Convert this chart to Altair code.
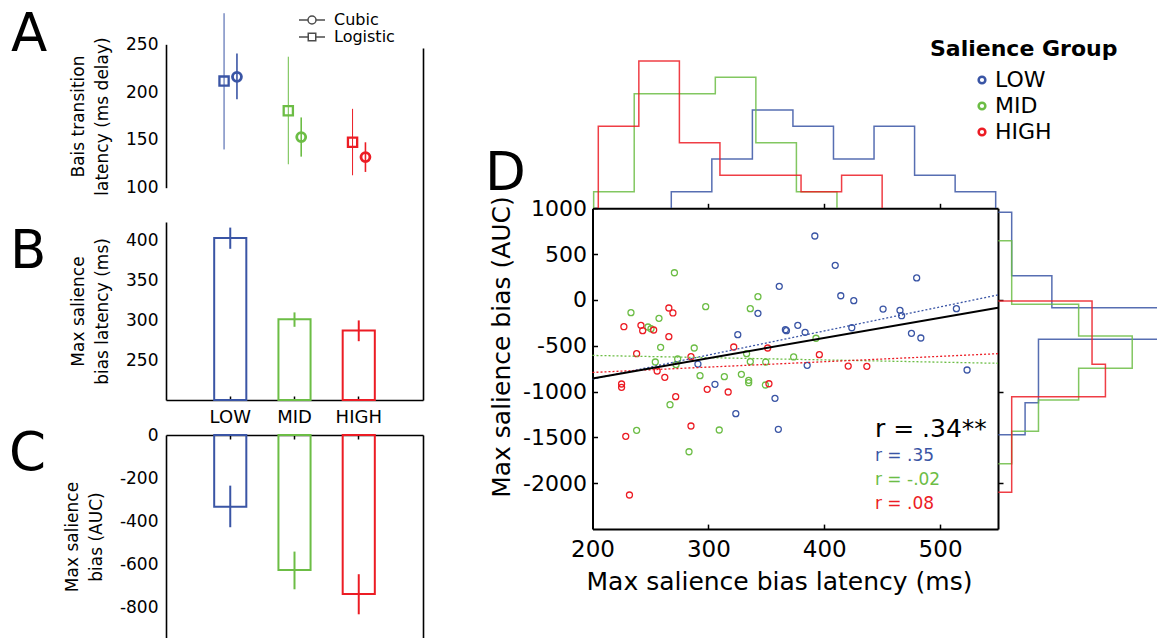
import altair as alt
import pandas as pd

FONT = "DejaVu Sans"

# ---------------- data ----------------
groups = ["LOW", "MID", "HIGH"]
colors = ["#3a55a5", "#6cbd45", "#ec1c24"]
models = ["Cubic", "Logistic"]

# Panel A: bias transition latency (ms delay)
a_logistic_mean = [211.5, 180.5, 147.5]
a_logistic_lo = [140.0, 124.5, 113.0]
a_logistic_hi = [282.5, 237.0, 182.5]
a_cubic_mean = [216.0, 153.0, 132.0]
a_cubic_lo = [192.5, 132.5, 116.5]
a_cubic_hi = [240.5, 173.5, 147.5]

# Panel B: max salience bias latency (ms)
b_mean = [402.5, 301.0, 287.0]
b_lo = [389.0, 291.5, 273.5]
b_hi = [415.5, 309.5, 299.5]

# Panel C: max salience bias (AUC)
c_mean = [-333.0, -626.0, -738.0]
c_lo = [-428.0, -716.0, -832.0]
c_hi = [-235.0, -541.0, -646.0]

# Panel D scatter
low_x = [391.9, 409.5, 479.8, 361.2, 414.3, 425.5, 342.8, 450.8, 465.4, 466.8, 514.1, 377.2, 367.4,
         366.5, 383.5, 325.4, 423.8, 475.3, 483.4, 291.0, 385.3, 523.3, 305.7, 357.5, 323.7, 360.4]
low_y = [698, 378, 240, 149, 46, -8, -146, -99, -113, -172, -95, -277, -335,
         -325, -353, -379, -303, -364, -415, -699, -713, -764, -920, -1073, -1241, -1411]
mid_x = [270.7, 342.8, 297.7, 336.2, 233.2, 257.4, 247.9, 250.5, 392.9, 258.8, 287.8, 333.0, 373.6, 273.5,
         254.2, 336.2, 349.5, 272.1, 292.8, 313.8, 328.5, 334.8, 334.8, 349.2, 266.9, 238.1, 309.4, 283.3]
mid_y = [297, 36, -73, -95, -139, -200, -295, -314, -418, -517, -524, -586, -622, -644,
         -677, -673, -677, -706, -826, -837, -811, -877, -903, -928, -1143, -1422, -1419, -1656]
high_x = [265.9, 269.4, 227.1, 241.8, 243.3, 252.8, 265.9, 238.1, 321.9, 351.2, 285.0, 395.8, 255.8,
          262.4, 420.7, 436.8, 225.1, 225.1, 299.0, 352.3, 317.1, 271.8, 285.0, 228.7, 231.9]
high_y = [-88, -142, -292, -277, -335, -328, -401, -586, -513, -524, -619, -597, -775,
          -844, -721, -724, -917, -953, -975, -914, -1004, -1055, -1375, -1488, -2128]

# regression lines (end points at the x limits)
fit_x = [200, 550]
fit_all = [-856, -84]
fit_low = [-863, 55]
fit_mid = [-605, -691]
fit_high = [-791, -586]

r_labels = ["r = .34**", "r = .35", "r = -.02", "r = .08"]

# marginal histograms (bin edges and counts)
top_edges_low = [268, 303, 338, 373, 408, 443, 478, 513, 548]
top_counts_low = [1, 3, 6, 5, 3, 5, 2, 1]
top_edges_mid = [201, 236, 271, 306, 341, 376, 411]
top_counts_mid = [1, 7, 7, 8, 4, 1]
top_edges_high = [205, 240, 275, 310, 345, 380, 415, 450]
top_counts_high = [5, 9, 4, 2, 2, 1, 2]

right_edges_low = [956, 611, 265, -84, -429, -775, -1121, -1470]
right_counts_low = [1, 1, 4, 12, 3, 3, 2]
right_edges_mid = [647, 300, -47, -393, -746, -1091, -1433, -1786]
right_counts_mid = [1, 1, 6, 10, 6, 3, 1]
right_edges_high = [-11, -357, -702, -1055, -1402, -1750, -2098]
right_counts_high = [7, 7, 8, 1, 1, 1]

# ---------------- tables ----------------
A_df = pd.DataFrame({"group": groups,
                     "log_mean": a_logistic_mean, "log_lo": a_logistic_lo, "log_hi": a_logistic_hi,
                     "cub_mean": a_cubic_mean, "cub_lo": a_cubic_lo, "cub_hi": a_cubic_hi})
B_df = pd.DataFrame({"group": groups, "mean": b_mean, "lo": b_lo, "hi": b_hi})
C_df = pd.DataFrame({"group": groups, "mean": c_mean, "lo": c_lo, "hi": c_hi})

scatter_df = pd.concat([
    pd.DataFrame({"group": "LOW", "lat": low_x, "auc": low_y}),
    pd.DataFrame({"group": "MID", "lat": mid_x, "auc": mid_y}),
    pd.DataFrame({"group": "HIGH", "lat": high_x, "auc": high_y}),
], ignore_index=True)

fit_df = pd.concat([
    pd.DataFrame({"group": "LOW", "lat": fit_x, "auc": fit_low}),
    pd.DataFrame({"group": "MID", "lat": fit_x, "auc": fit_mid}),
    pd.DataFrame({"group": "HIGH", "lat": fit_x, "auc": fit_high}),
], ignore_index=True)
fit_all_df = pd.DataFrame({"lat": fit_x, "auc": fit_all})


def steps(group, edges, counts):
    pos = [edges[0]] + list(edges[:-1]) + [edges[-1]]
    cnt = [0] + list(counts) + [0]
    return pd.DataFrame({"group": group, "pos": pos, "count": cnt, "idx": range(len(pos))})


top_df = pd.concat([steps("LOW", top_edges_low, top_counts_low),
                    steps("MID", top_edges_mid, top_counts_mid),
                    steps("HIGH", top_edges_high, top_counts_high)], ignore_index=True)
right_df = pd.concat([steps("LOW", right_edges_low, right_counts_low),
                      steps("MID", right_edges_mid, right_counts_mid),
                      steps("HIGH", right_edges_high, right_counts_high)], ignore_index=True)

# ---------------- scales ----------------
col_scale = alt.Scale(domain=groups, range=colors)
# same mapping, listed in another order so that its (hidden) legend stays separate
stroke_scale = alt.Scale(domain=groups[::-1], range=colors[::-1])


def lin(domain, rng):
    return alt.Scale(domain=domain, range=rng, nice=False, zero=False)


def band(shift=0.0):
    return alt.Scale(type="band", domain=groups, range=[166 + shift, 423 + shift],
                     paddingInner=0.5, paddingOuter=0.75)


A_y = lin([100, 250], [187.7, 44.3])
B_y = lin([200, 422.5], [400, 222])
B_y_long = lin([200, 640], [400, 48])
C_y = lin([-942, 0], [638, 435])
D_x = lin([200, 550], [592.5, 998])
D_y = lin([-2500, 1000], [529.1, 208.3])
TH_y = lin([0, 9], [208, 61])
RH_x = lin([0, 12], [998.3, 1159])

MINUS = "replace(datum.label, '\u2212', '-')"
stroke_g = alt.Stroke("group:N", scale=stroke_scale, legend=None)

# ---------------- panel D ----------------
top_hist = alt.Chart(top_df).mark_line(interpolate="step-after", strokeWidth=1.5, opacity=0.85).encode(
    x=alt.X("pos:Q", scale=D_x, axis=None),
    y=alt.Y("count:Q", scale=TH_y, axis=None),
    stroke=stroke_g,
    order=alt.Order("idx:Q"),
)
right_hist = alt.Chart(right_df).mark_line(interpolate="step-before", strokeWidth=1.5, opacity=0.85).encode(
    x=alt.X("count:Q", scale=RH_x, axis=None),
    y=alt.Y("pos:Q", scale=D_y, axis=None),
    stroke=stroke_g,
    order=alt.Order("idx:Q"),
)
scatter = alt.Chart(scatter_df).mark_point(filled=False, size=36, strokeWidth=1.3, opacity=1).encode(
    x=alt.X("lat:Q", scale=D_x, axis=alt.Axis(
        orient="bottom", offset=-108.9, values=[200, 300, 400, 500], format="d", ticks=False,
        labelFontSize=23, labelPadding=9, domainWidth=2, labelFlush=False,
        title="Max salience bias latency (ms)", titleFontSize=25, titlePadding=8, titleX=779)),
    y=alt.Y("auc:Q", scale=D_y, axis=alt.Axis(
        orient="left", offset=-592.5, values=[-2000, -1500, -1000, -500, 0, 500, 1000], format="d",
        labelExpr=MINUS, ticks=False, labelFontSize=22, labelPadding=6, domainWidth=2, labelFlush=False,
        title="Max salience bias (AUC)", titleFontSize=25, titlePadding=8, titleY=346.5)),
    color=alt.Color("group:N", scale=col_scale, legend=alt.Legend(
        title="Salience Group", orient="none", legendX=930, legendY=39,
        titleFontSize=22, titleFontWeight="bold", titleColor="black", titleFont=FONT, titlePadding=8,
        titleLimit=400,
        labelFontSize=22, labelColor="black", labelFont=FONT,
        symbolType="circle", symbolSize=45, symbolStrokeWidth=2.5,
        symbolOffset=41, labelOffset=2, rowPadding=4)),
)
fits = alt.Chart(fit_df).mark_line(strokeDash=[2, 2], strokeWidth=1.3).encode(
    x=alt.X("lat:Q", scale=D_x, axis=alt.Axis(
        orient="top", offset=-529.1, values=[300, 400, 500], labels=False, domain=False,
        tickSize=5, tickWidth=1.5, title=None)),
    y=alt.Y("auc:Q", scale=D_y, axis=alt.Axis(
        orient="right", offset=-564.5, values=[-2000, -1500, -1000, -500, 0, 500, 1000],
        labels=False, domain=False, tickSize=5, tickWidth=1.5, title=None)),
    stroke=stroke_g,
)
fit_overall = alt.Chart(fit_all_df).mark_line(color="black", strokeWidth=2).encode(
    x=alt.X("lat:Q", scale=D_x, axis=alt.Axis(
        orient="top", offset=-208.3, values=[300, 400, 500], labels=False,
        tickSize=5, tickWidth=1.5, domainWidth=2, title=None)),
    y=alt.Y("auc:Q", scale=D_y, axis=alt.Axis(
        orient="right", offset=-159, values=[-2000, -1000, 0], labels=False,
        tickSize=5, tickWidth=1.5, domainWidth=2, title=None)),
)


def rtext(label, y, color, size):
    return alt.Chart(pd.DataFrame({"label": [label]})).mark_text(
        align="left", baseline="alphabetic", fontSize=size, color=color, font=FONT).encode(
        text="label:N",
        x=alt.XDatum(443.8, scale=D_x, axis=None),
        y=alt.YDatum(y, scale=D_y, axis=None),
    )


r_all = rtext(r_labels[0], -1492, "black", 25)
r_low = rtext(r_labels[1], -1754, colors[0], 17)
r_mid = rtext(r_labels[2], -2019, colors[1], 17)
r_high = rtext(r_labels[3], -2284, colors[2], 17)

# ---------------- panel B ----------------
b_bars = alt.Chart(B_df).mark_bar(filled=False, strokeWidth=2).encode(
    x=alt.X("group:N", scale=band(), sort=groups, axis=alt.Axis(
        orient="bottom", offset=-238, ticks=False, labelAngle=0, labelFontSize=18, labelPadding=8,
        domainWidth=1.6, title=None)),
    y=alt.Y("mean:Q", scale=B_y_long, axis=alt.Axis(
        orient="right", offset=-734, labels=False, ticks=False, domainWidth=1.6, title=None)),
    y2=alt.datum(200),
    stroke=stroke_g,
)
b_err = alt.Chart(B_df).mark_rule(strokeWidth=2).encode(
    x=alt.X("group:N", scale=band(), sort=groups, axis=alt.Axis(
        orient="top", offset=-400, labels=False, domain=False, tickSize=4, tickWidth=1.5, title=None)),
    y=alt.Y("lo:Q", scale=B_y, axis=alt.Axis(
        orient="left", offset=-166, values=[250, 300, 350, 400], format="d", ticks=False,
        labelFontSize=17, labelPadding=8, domainWidth=1.6,
        title=["Max salience", "bias latency (ms)"], titleFontSize=17, titleLineHeight=24, titlePadding=14)),
    y2="hi:Q",
    stroke=stroke_g,
)

# ---------------- panel C ----------------
c_bars = alt.Chart(C_df).mark_bar(filled=False, strokeWidth=2).encode(
    x=alt.X("group:N", scale=band(), sort=groups, axis=alt.Axis(
        orient="bottom", offset=-203, labels=False, tickSize=4, tickWidth=1.5, domainWidth=1.6, title=None)),
    y=alt.Y("mean:Q", scale=C_y, axis=alt.Axis(
        orient="right", offset=-734, labels=False, ticks=False, domainWidth=1.6, title=None)),
    y2=alt.datum(0),
    stroke=stroke_g,
)
c_err = alt.Chart(C_df).mark_rule(strokeWidth=2).encode(
    x=alt.X("group:N", scale=band(), sort=groups, axis=None),
    y=alt.Y("lo:Q", scale=C_y, axis=alt.Axis(
        orient="left", offset=-166, values=[-800, -600, -400, -200, 0], format="d", labelExpr=MINUS,
        ticks=False, labelFontSize=17, labelPadding=8, domainWidth=1.6,
        title=["Max salience", "bias (AUC)"], titleFontSize=17, titleLineHeight=24, titlePadding=14)),
    y2="hi:Q",
    stroke=stroke_g,
)

# ---------------- panel A ----------------
a_log_err = alt.Chart(A_df).mark_rule(strokeWidth=1).encode(
    x=alt.X("group:N", scale=band(-6.2), sort=groups, axis=None),
    y=alt.Y("log_lo:Q", scale=A_y, axis=alt.Axis(
        orient="left", offset=-166, values=[100, 150, 200, 250], format="d", ticks=False,
        labelFontSize=17, labelPadding=8, domainWidth=1.6,
        title=["Bais transition", "latency (ms delay)"], titleFontSize=17, titleLineHeight=24, titlePadding=14)),
    y2="log_hi:Q",
    stroke=stroke_g,
)
a_log_pt = alt.Chart(A_df).mark_point(shape="square", filled=False, size=85, strokeWidth=2.3, opacity=1).encode(
    x=alt.X("group:N", scale=band(-6.2), sort=groups, axis=None),
    y=alt.Y("log_mean:Q", scale=A_y, axis=None),
    stroke=stroke_g,
)
a_cub_err = alt.Chart(A_df).mark_rule(strokeWidth=1.6).encode(
    x=alt.X("group:N", scale=band(6.7), sort=groups, axis=None),
    y=alt.Y("cub_lo:Q", scale=A_y, axis=None),
    y2="cub_hi:Q",
    stroke=stroke_g,
)
a_cub_pt = alt.Chart(A_df).mark_point(shape="circle", filled=False, size=80, strokeWidth=2.8, opacity=1).encode(
    x=alt.X("group:N", scale=band(6.7), sort=groups, axis=None),
    y=alt.Y("cub_mean:Q", scale=A_y, axis=None),
    stroke=stroke_g,
)

circ_path = "M-2.6,0H-0.8M0.8,0H2.6M0.8,0A0.8,0.8,0,1,1,-0.8,0A0.8,0.8,0,1,1,0.8,0"
sq_path = "M-2.6,0H-0.75M0.75,0H2.6M-0.75,-0.75H0.75V0.75H-0.75Z"
a_legend = alt.Chart(pd.DataFrame({"model": models})).transform_filter("false").mark_point(
    filled=False, color="black", strokeWidth=1.5).encode(
    shape=alt.Shape("model:N", scale=alt.Scale(domain=models, range=[circ_path, sq_path]),
                    legend=alt.Legend(title=None, orient="none", legendX=304, legendY=12,
                                      labelFontSize=16, labelColor="black", labelFont=FONT,
                                      symbolSize=100, symbolStrokeWidth=1.5, symbolStrokeColor="black",
                                      labelOffset=14, rowPadding=1)),
)


def letter(L, x, y):
    return alt.Chart(pd.DataFrame({"panel": [L]})).mark_text(
        fontSize=53, align="left", baseline="alphabetic", color="black", font=FONT).encode(
        text="panel:N", x=alt.value(x), y=alt.value(y))


letters = [letter("A", 11, 51), letter("B", 10, 268), letter("C", 9, 470), letter("D", 485, 190)]

layers = [top_hist, right_hist, scatter, fits, fit_overall, r_all, r_low, r_mid, r_high,
          b_bars, b_err, c_bars, c_err, a_log_err, a_log_pt, a_cub_err, a_cub_pt, a_legend] + letters

chart = alt.layer(*layers).resolve_scale(x="independent", y="independent").properties(
    width=1157, height=638, padding=0, autosize=alt.AutoSizeParams(type="none"), background="white",
).configure_view(stroke=None).configure_axis(
    labelFont=FONT, titleFont=FONT, labelColor="black", titleColor="black", domainColor="black",
    tickColor="black", grid=False, titleFontWeight="normal", labelFlush=False,
).configure_legend(labelFont=FONT, titleFont=FONT)

chart.save("out.html", embed_options={"renderer": "svg", "actions": False})
